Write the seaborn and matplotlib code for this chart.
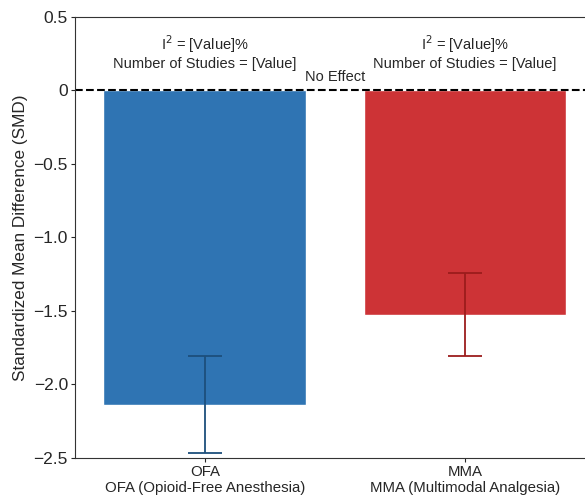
import pandas as pd
import matplotlib
matplotlib.use("Agg")
import matplotlib.pyplot as plt
import seaborn as sns

# dados
grupos = ["OFA", "MMA"]
rotulos = ["OFA\nOFA (Opioid-Free Anesthesia)", "MMA\nMMA (Multimodal Analgesia)"]
smd = [-2.14, -1.53]
ic_inf = [-2.47, -1.81]
ic_sup = [-1.81, -1.24]
cores_barra = ["#2f74b3", "#cd3336"]
cores_erro = ["#1d4f7c", "#9c1c1c"]

sns.set_style("ticks")
plt.rcParams["font.family"] = ["Liberation Sans", "DejaVu Sans"]

df = pd.DataFrame({"grupo": grupos, "smd": smd})

fig = plt.figure(figsize=(5.85, 4.97), dpi=100)
ax = fig.add_axes([0.128, 0.079, 0.889, 0.887])

sns.barplot(data=df, x="grupo", y="smd", hue="grupo", palette=cores_barra,
            saturation=1, errorbar=None, width=0.78, legend=False, ax=ax)

for i, (m, lo, hi) in enumerate(zip(smd, ic_inf, ic_sup)):
    ax.errorbar(i, m, yerr=[[m - lo], [hi - m]], fmt="none",
                ecolor=cores_erro[i], elinewidth=1.3, capsize=12, capthick=1.3)
    ax.text(i, 0.26, "I$^2$ = [Value]%\nNumber of Studies = [Value]",
            ha="center", va="center", fontsize=10.5, linespacing=1.1)

ax.axhline(0, color="black", linestyle="--", linewidth=1.5)
ax.text(0.5, 0.04, "No Effect", ha="center", va="bottom", fontsize=10.5)

ax.set_xlim(-0.5, 1.5)
ax.set_ylim(-2.5, 0.5)
ax.set_yticks([-2.5, -2.0, -1.5, -1.0, -0.5, 0, 0.5])
ax.set_yticklabels(["\u22122.5", "\u22122.0", "\u22121.5", "\u22121.0", "\u22120.5", "0", "0.5"])
ax.set_xticks([0, 1])
ax.set_xticklabels(rotulos, fontsize=10.8)
ax.tick_params(axis="y", labelsize=12.5, length=3, pad=2)
ax.tick_params(axis="x", length=3, pad=2)
ax.set_xlabel("")
ax.set_ylabel("Standardized Mean Difference (SMD)", fontsize=12.3, labelpad=4)
for s in ax.spines.values():
    s.set_color("#333333")

fig.savefig("out.png", dpi=100)
